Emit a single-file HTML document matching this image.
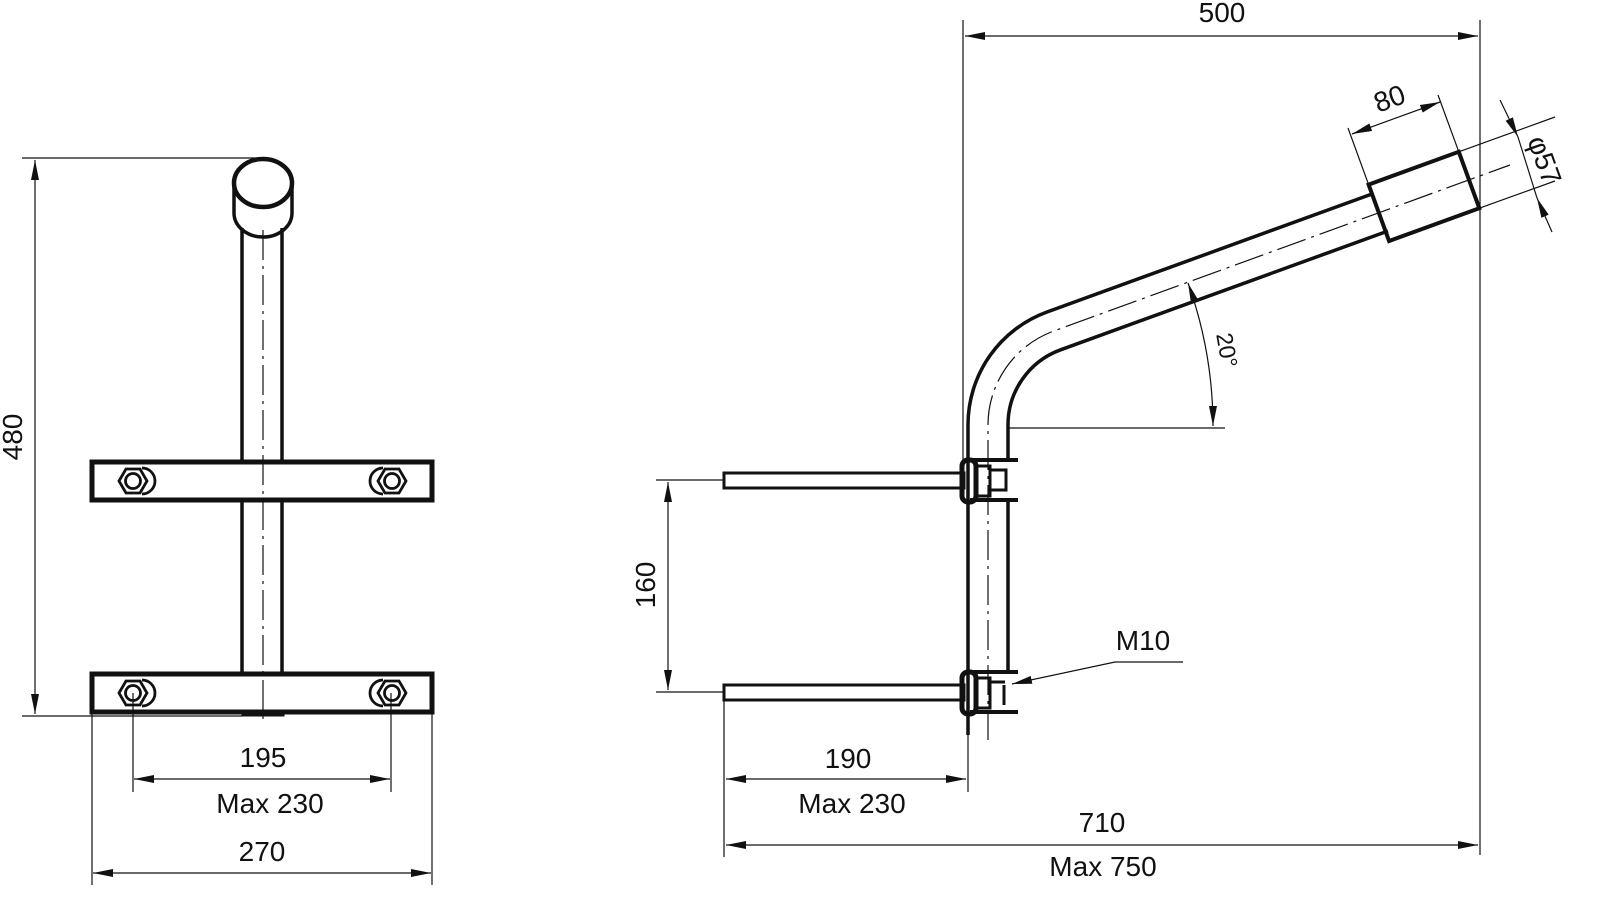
<!DOCTYPE html>
<html><head><meta charset="utf-8"><style>
html,body{margin:0;padding:0;background:#fff}
svg{display:block}
text{font-family:"Liberation Sans",sans-serif;font-size:28px;fill:#111}
</style></head><body>
<svg width="1600" height="907" viewBox="0 0 1600 907" xmlns="http://www.w3.org/2000/svg">
<defs>
<marker id="a" viewBox="0 0 20 8" refX="20" refY="4" markerWidth="20" markerHeight="8" orient="auto-start-reverse" markerUnits="userSpaceOnUse"><path d="M0,0 L20,4 L0,8 z" fill="#111"/></marker>
</defs>
<g stroke="#111" fill="none">
<g stroke-width="3.5">
<line x1="242" y1="228" x2="242" y2="461"/><line x1="282" y1="228" x2="282" y2="461"/>
<line x1="242" y1="500" x2="242" y2="673"/><line x1="282" y1="500" x2="282" y2="673"/>
<path d="M234,183 L234,213 A29,24 0 0 0 292,213 L292,183"/>
<ellipse cx="263" cy="183" rx="29" ry="24" stroke-width="4.5"/>
<rect x="92" y="462" width="340" height="38" stroke-width="5"/>
<rect x="92" y="674" width="340" height="38" stroke-width="5"/>
<rect x="242" y="712" width="42" height="4" fill="#111" stroke-width="1"/>
</g>
<g stroke-width="2.8">
<g transform="translate(133,481)"><path d="M9,-13 A13,13 0 0 1 9,13"/><polygon points="-14,0 -7,-12 7,-12 14,0 7,12 -7,12"/><circle r="7.5"/></g>
<g transform="translate(392,481)"><path d="M-9,-13 A13,13 0 0 0 -9,13"/><polygon points="-14,0 -7,-12 7,-12 14,0 7,12 -7,12"/><circle r="7.5"/></g>
<g transform="translate(133,693)"><path d="M9,-13 A13,13 0 0 1 9,13"/><polygon points="-14,0 -7,-12 7,-12 14,0 7,12 -7,12"/><circle r="7.5"/></g>
<g transform="translate(392,693)"><path d="M-9,-13 A13,13 0 0 0 -9,13"/><polygon points="-14,0 -7,-12 7,-12 14,0 7,12 -7,12"/><circle r="7.5"/></g>
</g>
<line x1="263" y1="230" x2="263" y2="720" stroke-width="1.2" stroke-dasharray="30,6,3,6"/>
<g stroke-width="1.2">
<line x1="22" y1="158" x2="262" y2="158"/><line x1="22" y1="716" x2="242" y2="716"/>
<line x1="35" y1="160" x2="35" y2="714" marker-start="url(#a)" marker-end="url(#a)"/>
<line x1="92" y1="712" x2="92" y2="885"/><line x1="432" y1="712" x2="432" y2="885"/>
<line x1="133" y1="693" x2="133" y2="792"/><line x1="391" y1="693" x2="391" y2="792"/>
<line x1="134" y1="779" x2="390" y2="779" marker-start="url(#a)" marker-end="url(#a)"/>
<line x1="93" y1="873" x2="431" y2="873" marker-start="url(#a)" marker-end="url(#a)"/>
</g>
<g stroke-width="3.5">
<path d="M968,735 L968,425 A120,120 0 0 1 1047,312 L1372,194"/>
<path d="M1008,460 L1008,425 A80,80 0 0 1 1060.6,349.8 L1388,231"/>
<line x1="1008" y1="500" x2="1008" y2="672"/>
<polygon points="1368.6,184.6 1458.8,151.8 1479.3,208.2 1389.1,241" stroke-width="4"/>
<rect x="724" y="473" width="240" height="15" stroke-width="3"/>
<rect x="724" y="685" width="240" height="15" stroke-width="3"/>
</g>
<g stroke-width="3">
<rect x="962" y="460" width="14" height="42" rx="6" stroke-width="5"/>
<rect x="976" y="466" width="14" height="30"/><rect x="990" y="470" width="16" height="20"/>
<line x1="970" y1="460" x2="1018" y2="460" stroke-width="4"/><line x1="970" y1="500" x2="1018" y2="500" stroke-width="4"/>
<rect x="962" y="672" width="14" height="42" rx="6" stroke-width="5"/>
<rect x="976" y="678" width="14" height="30"/><path d="M990,682 L1005,682 M1004,685 L1004,705"/>
<line x1="970" y1="672" x2="1018" y2="672" stroke-width="4"/><line x1="970" y1="712" x2="1018" y2="712" stroke-width="4"/>
</g>
<g stroke-width="1.2" stroke-dasharray="30,6,3,6">
<path d="M988,740 L988,425 A100,100 0 0 1 1053.8,331 L1510,165"/>
</g>
<g stroke-width="1.2">
<line x1="963" y1="20" x2="963" y2="470"/><line x1="1480" y1="20" x2="1480" y2="855"/>
<line x1="965" y1="36" x2="1478" y2="36" marker-start="url(#a)" marker-end="url(#a)"/>
<line x1="1368.6" y1="184.6" x2="1348" y2="128"/><line x1="1458.8" y1="151.8" x2="1438" y2="95"/>
<line x1="1352" y1="134" x2="1440" y2="102" marker-start="url(#a)" marker-end="url(#a)"/>
<line x1="1458.8" y1="151.8" x2="1555" y2="117"/><line x1="1479.3" y1="208.2" x2="1555" y2="181"/>
<line x1="1500" y1="100" x2="1518" y2="137" marker-end="url(#a)"/>
<line x1="1537" y1="198" x2="1552" y2="232" marker-start="url(#a)"/>
<line x1="1518" y1="137" x2="1537" y2="198"/>
<line x1="1008" y1="428" x2="1225" y2="428"/>
<path d="M1188,283 A425,425 0 0 1 1213,426" marker-start="url(#a)" marker-end="url(#a)"/>
<line x1="656" y1="480" x2="724" y2="480"/><line x1="656" y1="692" x2="724" y2="692"/>
<line x1="668" y1="482" x2="668" y2="690" marker-start="url(#a)" marker-end="url(#a)"/>
<line x1="724" y1="700" x2="724" y2="857"/><line x1="968" y1="735" x2="968" y2="792"/>
<line x1="726" y1="779" x2="966" y2="779" marker-start="url(#a)" marker-end="url(#a)"/>
<line x1="726" y1="845" x2="1478" y2="845" marker-start="url(#a)" marker-end="url(#a)"/>
<path d="M1183,662 L1115,662 L1012,684" marker-end="url(#a)"/>
</g>
</g>
<g text-anchor="middle">
<text x="12" y="437" transform="rotate(-90 12 437)" dy="10">480</text>
<text x="263" y="767">195</text>
<text x="270" y="813">Max 230</text>
<text x="262" y="861">270</text>
<text x="1222" y="22">500</text>
<text x="1390" y="108" transform="rotate(-20 1390 100)">80</text>
<text x="1545" y="160" transform="rotate(70 1545 160)" dy="10">φ57</text>
<text x="1228" y="350" transform="rotate(80 1228 350)" dy="9" style="font-size:23px">20°</text>
<text x="645" y="585" transform="rotate(-90 645 585)" dy="10">160</text>
<text x="848" y="768">190</text>
<text x="852" y="813">Max 230</text>
<text x="1102" y="832">710</text>
<text x="1103" y="876">Max 750</text>
<text x="1143" y="650">M10</text>
</g>
</svg>
</body></html>
